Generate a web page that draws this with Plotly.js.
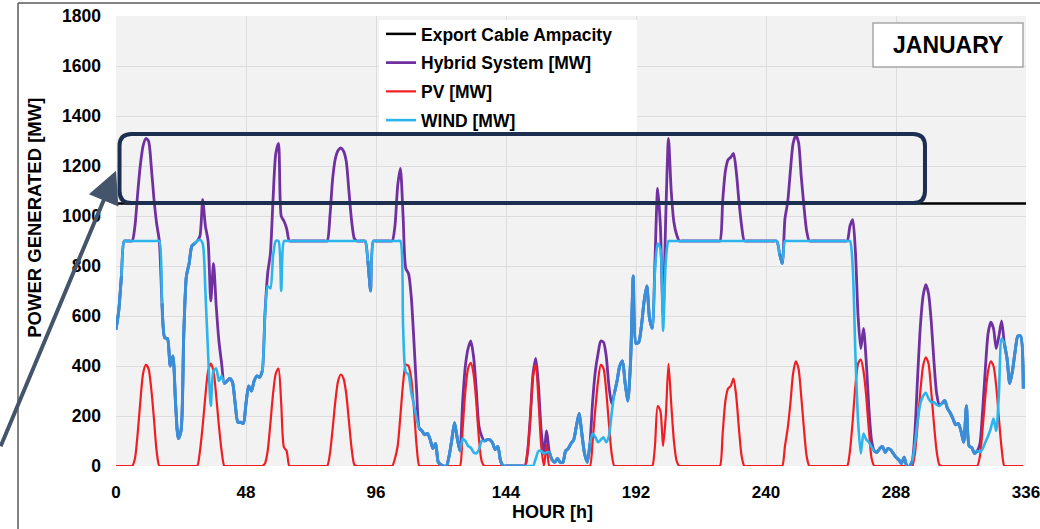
<!DOCTYPE html>
<html><head><meta charset="utf-8">
<script src="https://cdn.plot.ly/plotly-3.0.1.min.js"></script>
<style>html,body{margin:0;padding:0;background:#fff}#chart{width:1040px;height:529px}</style>
</head><body><div id="chart"></div>
<script>
// Hourly data, January (hours 0..335)
const wind = [
 546,620,760,900,900,900,900,900,900,900,900,900,900,900,900,900,900,650,513,510,400,440,250,110,
 140,520,760,810,880,890,900,905,890,700,450,240,380,390,340,360,330,340,350,335,250,175,175,170,
 250,320,300,340,360,355,380,600,720,710,840,900,900,700,900,900,900,900,900,900,900,900,900,900,
 900,900,900,900,900,900,900,900,900,900,900,900,900,900,900,900,900,900,900,900,900,820,700,900,
 900,900,900,900,900,900,900,900,900,900,560,375,366,295,245,190,150,140,125,130,106,70,90,15,
 5,0,0,40,106,173,110,60,110,100,80,73,55,50,66,100,100,105,105,93,66,78,20,0,
 0,0,0,0,0,0,0,0,0,0,0,30,60,60,50,55,55,25,15,30,15,15,60,70,
 90,105,160,210,130,50,15,90,130,115,95,105,115,95,120,210,290,340,400,420,330,260,420,760,
 490,495,560,660,720,590,550,780,890,870,540,820,900,900,900,900,900,900,900,900,900,900,900,900,
 900,900,900,900,900,900,900,900,900,900,900,900,900,900,900,900,900,900,900,900,900,900,900,900,
 900,900,900,900,900,850,810,900,900,900,900,900,900,900,900,900,900,900,900,900,900,900,900,900,
 900,900,900,900,900,900,900,900,800,450,180,50,130,106,95,75,60,55,70,78,55,70,65,50,
 35,25,10,35,0,0,20,90,180,250,280,293,270,255,255,245,240,250,262,230,213,190,165,170,
 140,95,240,80,73,50,60,55,70,95,120,150,190,140,290,510,490,430,330,380,460,520,520,310
];
const pv = [
 0,0,0,0,0,0,0,30,130,260,370,405,390,310,190,60,0,0,0,0,0,0,0,0,
 0,0,0,0,0,0,0,60,160,280,380,410,380,280,160,60,0,0,0,0,0,0,0,0,
 0,0,0,0,0,0,0,10,60,170,290,370,390,250,75,60,0,0,0,0,0,0,0,0,
 0,0,0,0,0,0,0,50,150,260,340,366,350,290,180,70,5,0,0,0,0,0,0,0,
 0,0,0,0,0,0,0,30,80,200,330,405,400,350,230,80,0,0,0,0,0,0,0,0,
 0,0,0,0,0,0,0,0,150,300,390,413,370,260,110,20,0,0,0,0,0,0,0,0,
 0,0,0,0,0,0,0,0,60,200,360,406,260,80,0,85,0,0,0,0,0,0,0,0,
 0,0,0,0,0,0,0,0,100,230,340,405,390,300,170,50,0,0,0,0,0,0,0,0,
 0,0,0,0,0,0,0,80,240,220,80,200,409,250,100,20,0,0,0,0,0,0,0,0,
 0,0,0,0,0,0,0,0,130,260,310,320,350,280,150,40,0,0,0,0,0,0,0,0,
 0,0,0,0,0,0,0,80,150,250,370,419,390,280,150,40,0,0,0,0,0,0,0,0,
 0,0,0,0,0,0,0,60,180,320,410,426,380,280,140,30,0,0,0,0,0,0,0,0,
 0,0,0,0,0,0,0,50,170,300,400,435,410,300,170,60,5,0,0,0,0,0,0,0,
 0,0,0,0,0,0,0,40,150,280,380,419,400,320,190,70,0,0,0,0,0,0,0,0
];
const hybrid = [
 546,620,760,900,900,900,900,960,1090,1205,1280,1310,1300,1200,1070,970,900,650,513,510,400,440,250,110,
 140,520,760,810,880,890,900,920,1065,960,900,660,810,640,500,410,330,340,350,335,250,175,175,170,
 250,320,300,340,360,355,380,610,770,850,1070,1250,1290,1000,980,950,900,900,900,900,900,900,900,900,
 900,900,900,900,900,900,900,1000,1150,1230,1262,1272,1260,1220,1100,980,910,900,900,900,900,820,700,900,
 900,900,900,900,900,900,900,960,1120,1190,1000,790,770,680,500,300,150,140,125,130,106,70,90,15,
 5,0,0,40,106,173,110,60,260,400,470,500,440,310,160,120,100,105,105,93,66,78,20,0,
 0,0,0,0,0,0,0,0,60,200,370,430,320,140,50,140,55,25,15,30,15,15,60,70,
 90,105,160,210,130,50,15,90,260,380,450,500,495,440,320,250,290,340,400,420,330,260,420,760,
 490,495,560,660,720,590,550,820,1110,960,600,1000,1310,1100,975,925,900,900,900,900,900,900,900,900,
 900,900,900,900,900,900,900,900,1060,1180,1225,1235,1250,1180,1060,960,900,900,900,900,900,900,900,900,
 900,900,900,900,900,850,810,990,1055,1180,1290,1322,1295,1160,1040,940,900,900,900,900,900,900,900,900,
 900,900,900,900,900,900,900,960,985,860,600,470,550,420,230,100,60,55,70,78,55,70,65,50,
 35,25,10,35,0,0,20,140,360,560,680,725,690,580,420,290,245,250,262,230,213,190,165,170,
 140,95,240,80,73,50,60,90,225,390,530,575,550,470,520,580,490,430,330,380,460,520,520,310
];
const exportCableAmpacity = 1050;
const xTicks = [0, 48, 96, 144, 192, 240, 288, 336];
const seriesNames = ['Export Cable Ampacity', 'Hybrid System [MW]', 'PV [MW]', 'WIND [MW]'];
const monthLabel = 'JANUARY';

const hours = wind.map((_, i) => i);
// where the hybrid line lies under the wind line (no PV) the two blend into a darker blue
const blended = wind.map((w, i) => (Math.abs(hybrid[i] - w) < 1 && w < 895) ? w : null);

const sm = 0.7;
const traces = [
  {x:[xTicks[0], xTicks[xTicks.length-1]], y:[exportCableAmpacity, exportCableAmpacity], name:seriesNames[0], legendgroup:'a',
   mode:'lines', line:{color:'#000000', width:2.5}, hoverinfo:'skip'},
  {x:hours, y:hybrid, name:seriesNames[1], legendgroup:'b', mode:'lines',
   line:{color:'#7030a0', width:2.8, shape:'spline', smoothing:sm}},
  {x:hours, y:pv, name:seriesNames[2], legendgroup:'c', mode:'lines',
   line:{color:'#f01e23', width:2.2, shape:'spline', smoothing:sm}},
  {x:hours, y:wind, name:seriesNames[3], legendgroup:'d', mode:'lines',
   line:{color:'#2cb4ec', width:2.6, shape:'spline', smoothing:sm}},
  {x:hours, y:blended, showlegend:false, legendgroup:'e', mode:'lines', connectgaps:false, hoverinfo:'skip',
   line:{color:'#3a8ed8', width:3, shape:'spline', smoothing:sm}}
];

// pixel helpers for decorative overlays (plot area 116..1026 x 16..466.5)
const px = v => (v - 116) / 910;
const py = v => (466.5 - v) / 450.5;

// rounded box (data units)
const bx0 = 1.3, bx1 = 298.7, by0 = 1052, by1 = 1328, rx = 4.4, ry = 48;
const rr = `M${bx0+rx},${by1} L${bx1-rx},${by1} Q${bx1},${by1} ${bx1},${by1-ry} L${bx1},${by0+ry} Q${bx1},${by0} ${bx1-rx},${by0} L${bx0+rx},${by0} Q${bx0},${by0} ${bx0},${by0+ry} L${bx0},${by1-ry} Q${bx0},${by1} ${bx0+rx},${by1} Z`;

const boldFont = {family:'Liberation Sans, Arial, sans-serif', weight:'bold', color:'#000'};

const layout = {
  width:1040, height:529,
  margin:{l:116, r:14, t:16, b:62.5, pad:0},
  paper_bgcolor:'#ffffff', plot_bgcolor:'#f2f2f2',
  font:{family:'Liberation Sans, Arial, sans-serif', color:'#000'},
  xaxis:{range:[0,336], tickvals:xTicks, showgrid:true, gridcolor:'#dddddd', gridwidth:1,
         zeroline:false, showline:false, ticks:'', ticklabelstandoff:14, ticklabeloverflow:'allow',
         tickfont:Object.assign({size:17}, boldFont), fixedrange:true},
  yaxis:{range:[0,1800], dtick:200, showgrid:true, gridcolor:'#dddddd', gridwidth:1,
         zeroline:false, showline:false, ticks:'', ticklabelstandoff:14,
         tickfont:Object.assign({size:17.5}, boldFont), fixedrange:true},
  showlegend:true,
  legend:{x:px(381), xanchor:'left', y:py(16), yanchor:'top', bgcolor:'rgba(0,0,0,0)', borderwidth:0,
          font:Object.assign({size:17.5}, boldFont), tracegroupgap:3, itemwidth:30, traceorder:'grouped'},
  shapes:[
    {type:'line', xref:'paper', yref:'paper', x0:px(18), x1:1.2, y0:py(3), y1:py(3), line:{color:'#595959', width:1.5}},
    {type:'line', xref:'paper', yref:'paper', x0:px(18), x1:px(18), y0:py(3), y1:-0.3, line:{color:'#595959', width:1.5}},
    {type:'rect', xref:'paper', yref:'paper', layer:'above', x0:px(379), x1:px(637), y0:py(134), y1:py(20),
     fillcolor:'#ffffff', line:{width:0}},
    {type:'rect', xref:'paper', yref:'paper', layer:'above', x0:px(873), x1:px(1023), y0:py(67), y1:py(23),
     fillcolor:'#ffffff', line:{color:'#a6a6a6', width:1.5}},
    {type:'path', xref:'x', yref:'y', layer:'above', path:rr, line:{color:'#1d2f50', width:4}}
  ],
  annotations:[
    {text:'POWER GENERATED [MW]', xref:'paper', yref:'paper', x:px(35), y:py(218), textangle:-90,
     showarrow:false, font:Object.assign({size:18.5}, boldFont), xanchor:'center', yanchor:'middle'},
    {text:'HOUR [h]', xref:'paper', yref:'paper', x:px(552), y:py(513),
     showarrow:false, font:Object.assign({size:18}, boldFont), xanchor:'center', yanchor:'middle'},
    {text:monthLabel, xref:'paper', yref:'paper', x:px(948), y:py(45),
     showarrow:false, font:Object.assign({size:23}, boldFont), xanchor:'center', yanchor:'middle'},
    {text:'', xref:'paper', yref:'paper', x:px(116), y:py(171), showarrow:true,
     ax:-116, ay:277, arrowcolor:'#44546a', arrowwidth:4, arrowhead:2, arrowsize:1.6, standoff:0}
  ]
};

Plotly.newPlot('chart', traces, layout, {displayModeBar:false, staticPlot:true});
</script>
</body></html>
